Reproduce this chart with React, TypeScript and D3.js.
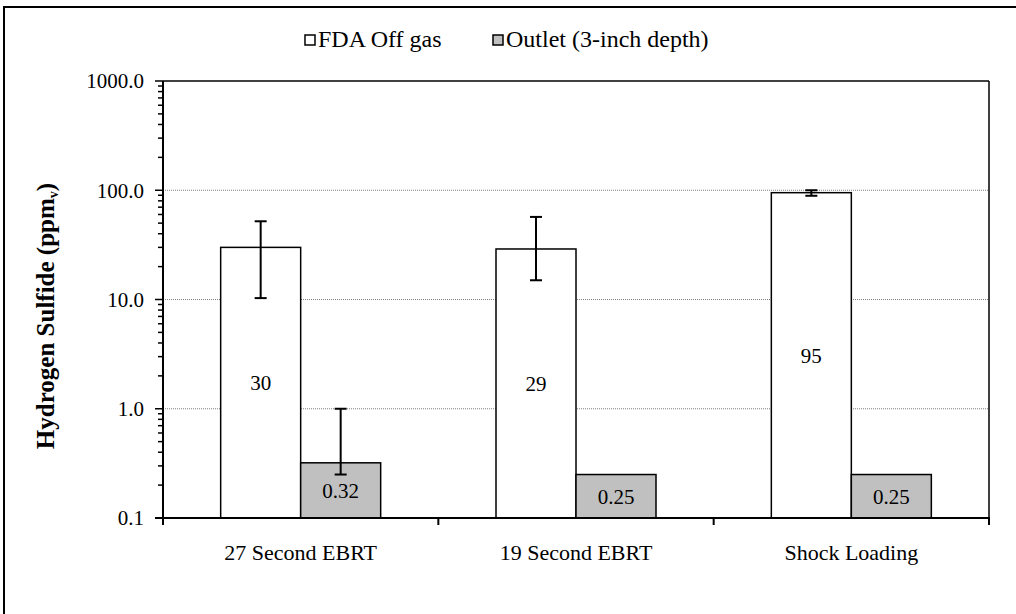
import React from "react";
import * as d3 from "d3";

// values (log scale, ppmv)
const categories = ["27 Second EBRT", "19 Second EBRT", "Shock Loading"];
const seriesNames = ["FDA Off gas", "Outlet (3-inch depth)"];
const seriesColors = ["#ffffff", "#c0c0c0"];
const fdaValues = [30, 29, 95];
const fdaLabels = ["30", "29", "95"];
const fdaErrLow = [10.3, 15, 89];
const fdaErrHigh = [52, 57, 100];
const outletValues = [0.32, 0.25, 0.25];
const outletLabels = ["0.32", "0.25", "0.25"];
const outletErrLow = [0.25, null, null];
const outletErrHigh = [1.0, null, null];
const yTicks = [0.1, 1, 10, 100, 1000];

const W = 1016;
const H = 614;
const left = 163;
const right = 989;
const top = 81;
const bottom = 518;
const serif = "Liberation Serif";

export default function App() {
  const x = d3.scaleBand().domain(categories).range([left, right]);
  const y = d3.scaleLog().domain([0.1, 1000]).range([bottom, top]);
  const barW = 80;

  const minor: number[] = [];
  for (let d = 0.1; d < 1000; d *= 10) {
    for (let k = 2; k <= 9; k++) minor.push(+(d * k).toPrecision(3));
  }

  const series = [
    { values: fdaValues, labels: fdaLabels, lo: fdaErrLow, hi: fdaErrHigh },
    { values: outletValues, labels: outletLabels, lo: outletErrLow, hi: outletErrHigh },
  ];

  const bandEdges = categories.map((c) => x(c)!).concat([right]);
  const txt = { fontFamily: serif, fill: "#000" };

  return (
    <svg
      width={W}
      height={H}
      style={{ position: "absolute", left: 0, top: 0, background: "#fff", fontFamily: serif }}
    >
      {/* outer chart border */}
      <rect x={4} y={7} width={1200} height={800} fill="none" stroke="#000" strokeWidth={2} />

      {/* gridlines */}
      {yTicks.slice(1, -1).map((t) => (
        <line
          key={"g" + t}
          x1={left}
          x2={right}
          y1={y(t)}
          y2={y(t)}
          stroke="#808080"
          strokeWidth={1}
          strokeDasharray="1,1"
        />
      ))}

      {/* plot frame top & right */}
      <line x1={left} x2={right} y1={top} y2={top} stroke="#000" strokeWidth={1.5} />
      <line x1={right} x2={right} y1={top} y2={bottom} stroke="#000" strokeWidth={1.5} />

      {/* bars */}
      {series.map((s, si) =>
        categories.map((c, ci) => {
          const cx = x(c)! + x.bandwidth() / 2;
          const bx = cx - barW + si * barW;
          const yv = y(s.values[ci]);
          return (
            <g key={si + "-" + ci}>
              <rect
                x={bx}
                y={yv}
                width={barW}
                height={bottom - yv}
                fill={seriesColors[si]}
                stroke="#000"
                strokeWidth={1.5}
              />
              {s.lo[ci] != null && (
                <g stroke="#000" strokeWidth={2}>
                  <line x1={bx + barW / 2} x2={bx + barW / 2} y1={y(s.lo[ci]!)} y2={y(s.hi[ci]!)} />
                  <line x1={bx + barW / 2 - 6} x2={bx + barW / 2 + 6} y1={y(s.lo[ci]!)} y2={y(s.lo[ci]!)} />
                  <line x1={bx + barW / 2 - 6} x2={bx + barW / 2 + 6} y1={y(s.hi[ci]!)} y2={y(s.hi[ci]!)} />
                </g>
              )}
              <text
                x={bx + barW / 2}
                y={(yv + bottom) / 2}
                dy="0.35em"
                textAnchor="middle"
                fontSize={21}
                style={txt}
              >
                {s.labels[ci]}
              </text>
            </g>
          );
        })
      )}

      {/* y axis */}
      <line x1={left} x2={left} y1={top} y2={bottom + 1} stroke="#000" strokeWidth={2} />
      {minor.map((t) => (
        <line key={"m" + t} x1={left - 5} x2={left} y1={y(t)} y2={y(t)} stroke="#000" strokeWidth={1.5} />
      ))}
      {yTicks.map((t) => (
        <g key={"t" + t}>
          <line x1={left - 8} x2={left} y1={y(t)} y2={y(t)} stroke="#000" strokeWidth={1.5} />
          <text x={left - 19} y={y(t)} dy="0.35em" textAnchor="end" fontSize={21} style={txt}>
            {d3.format(".1f")(t)}
          </text>
        </g>
      ))}

      {/* x axis */}
      <line x1={left - 8} x2={right + 1} y1={bottom} y2={bottom} stroke="#000" strokeWidth={2} />
      {bandEdges.map((e, i) => (
        <line key={"xt" + i} x1={e} x2={e} y1={bottom} y2={bottom + 7} stroke="#000" strokeWidth={2} />
      ))}
      {categories.map((c) => (
        <text key={c} x={x(c)! + x.bandwidth() / 2} y={560} textAnchor="middle" fontSize={22} style={txt}>
          {c}
        </text>
      ))}

      {/* y title */}
      <text
        transform="translate(54, 316) rotate(-90)"
        textAnchor="middle"
        fontSize={25}
        fontWeight="bold"
        style={txt}
      >
        Hydrogen Sulfide (ppm<tspan fontSize={14} dy={4}>v</tspan>
        <tspan dy={-4}>)</tspan>
      </text>

      {/* legend */}
      {seriesNames.map((n, i) => {
        const lx = [305, 493][i];
        return (
          <g key={n}>
            <rect x={lx} y={35} width={10} height={10} fill={seriesColors[i]} stroke="#000" strokeWidth={1.5} />
            <text x={lx + 13} y={47} fontSize={24} style={txt}>
              {n}
            </text>
          </g>
        );
      })}
    </svg>
  );
}
